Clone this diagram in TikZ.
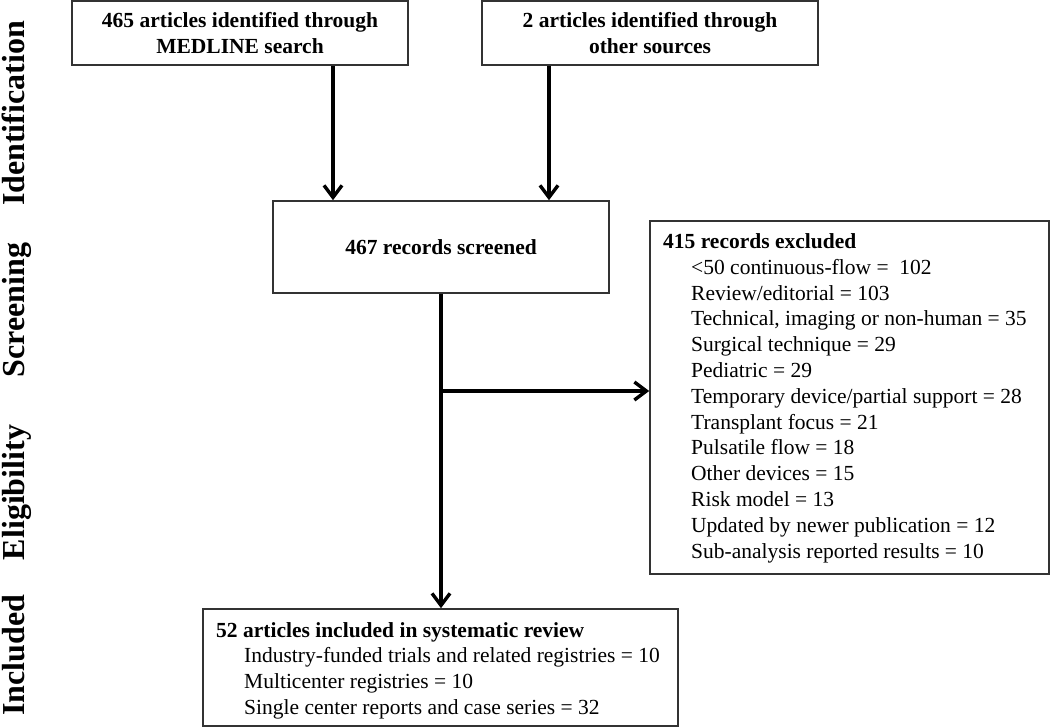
\documentclass[tikz,border=0pt]{standalone}
\usepackage{fontspec}
\setmainfont{Liberation Serif}
\usetikzlibrary{arrows.meta}
\newcommand{\myind}{\hspace*{28pt}}
\begin{document}
\begin{tikzpicture}[x=1pt,y=-1pt,
  every node/.style={font=\fontsize{21.5}{25.8}\selectfont},
  box/.style={draw=black!80, line width=1.6pt, inner sep=0pt},
  boldbox/.style={box, align=center, font=\fontsize{21.5}{26}\selectfont\bfseries},
  listtext/.style={align=left, anchor=base west, inner sep=0pt},
  arr/.style={line width=3.4pt, -{Straight Barb[length=12pt,width=18pt]}},
  phase/.style={rotate=90, anchor=base, inner sep=0pt, font=\fontsize{32}{36}\selectfont\bfseries}]
\useasboundingbox (0,0) rectangle (1050,728);

% phase labels
\node[phase] (ph1) at (24.5,113.5) {Identification};
\node[phase] (ph2) at (24.5,310) {Screening};
\node[phase] (ph3) at (24.5,492.5) {Eligibility};
\node[phase] (ph4) at (24.5,655) {Included};

% boxes
\node[boldbox, minimum width=336pt, minimum height=64pt] (src1) at (240,33)
  {465 articles identified through\\MEDLINE search};
\node[boldbox, minimum width=336pt, minimum height=64pt] (src2) at (650,33)
  {2 articles identified through\\other sources};
\node[boldbox, minimum width=336pt, minimum height=92pt] (scr) at (441,247)
  {467 records screened};
\node[box, minimum width=399pt, minimum height=353pt] (excl) at (849.5,397.5) {};
% anchor base = baseline of the last line
\node[listtext] (exclt) at (663,558)
  {\textbf{415 records excluded}\\
   \myind<50 continuous-flow =~~102\\
   \myind Review/editorial = 103\\
   \myind Technical, imaging or non-human = 35\\
   \myind Surgical technique = 29\\
   \myind Pediatric = 29\\
   \myind Temporary device/partial support = 28\\
   \myind Transplant focus = 21\\
   \myind Pulsatile flow = 18\\
   \myind Other devices = 15\\
   \myind Risk model = 13\\
   \myind Updated by newer publication = 12\\
   \myind Sub-analysis reported results = 10};
\node[box, minimum width=475pt, minimum height=117pt] (incl) at (440.5,667.5) {};
\node[listtext] (inclt) at (216,714.5)
  {\textbf{52 articles included in systematic review}\\
   \myind Industry-funded trials and related registries = 10\\
   \myind Multicenter registries = 10\\
   \myind Single center reports and case series = 32};

% connectors
\coordinate (a1) at ([xshift=93pt]src1.south);
\coordinate (a2) at ([xshift=-101pt]src2.south);
\coordinate (br) at ([yshift=6.5pt]excl.west);
\draw[arr] (a1) -- (a1 |- scr.north);
\draw[arr] (a2) -- (a2 |- scr.north);
\draw[arr] (scr.south) -- (scr.south |- incl.north);
\draw[arr] (br -| scr.south) -- (br);
\end{tikzpicture}
\end{document}
